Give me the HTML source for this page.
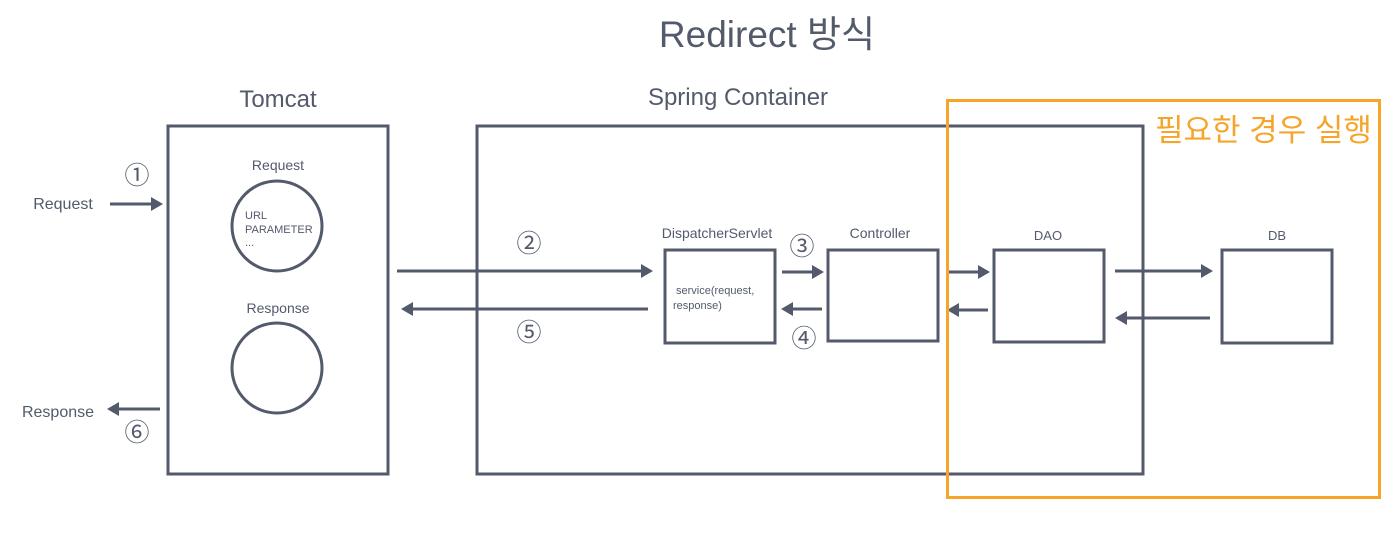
<!DOCTYPE html>
<html><head><meta charset="utf-8"><style>
html,body{margin:0;padding:0;background:#fff;width:1396px;height:537px;overflow:hidden}
text{font-family:"Liberation Sans","Noto Sans CJK KR",sans-serif;fill:#535a6b}
</style></head><body>
<svg width="1396" height="537" viewBox="0 0 1396 537" xmlns="http://www.w3.org/2000/svg">
<g stroke="#535a6b" stroke-width="3" fill="none">
<rect x="168" y="126" width="220" height="348"/>
<rect x="477" y="126" width="666" height="348"/>
<circle cx="277" cy="226" r="45"/>
<circle cx="277" cy="368" r="45"/>
<rect x="665" y="250" width="110" height="93"/>
<rect x="828" y="250" width="110" height="91"/>
<rect x="994" y="250" width="110" height="92"/>
<rect x="1222" y="250" width="110" height="93"/>
<line x1="110" y1="204" x2="152" y2="204"/>
<line x1="397" y1="271" x2="642" y2="271"/>
<line x1="648" y1="309" x2="412" y2="309"/>
<line x1="782" y1="272" x2="814" y2="272"/>
<line x1="822" y1="309" x2="792" y2="309"/>
<line x1="949" y1="272" x2="979" y2="272"/>
<line x1="988" y1="310" x2="958" y2="310"/>
<line x1="1115" y1="271" x2="1202" y2="271"/>
<line x1="1210" y1="318" x2="1126" y2="318"/>
<line x1="160" y1="409" x2="118" y2="409"/>
</g>
<g fill="#535a6b">
<polygon points="163,204 151,197 151,211"/>
<polygon points="653,271 641,264 641,278"/>
<polygon points="401,309 413,302 413,316"/>
<polygon points="824,272 812,265 812,279"/>
<polygon points="781,309 793,302 793,316"/>
<polygon points="990,272 978,265 978,279"/>
<polygon points="947,310 959,303 959,317"/>
<polygon points="1213,271 1201,264 1201,278"/>
<polygon points="1115,318 1127,311 1127,325"/>
<polygon points="107,409 119,402 119,416"/>
</g>
<rect x="947.5" y="100.5" width="432" height="397" stroke="#f7a42a" stroke-width="3" fill="none"/>
<text x="767" y="47" font-size="37" text-anchor="middle">Redirect 방식</text>
<text x="278" y="107" font-size="24" text-anchor="middle">Tomcat</text>
<text x="738" y="105" font-size="24" text-anchor="middle">Spring Container</text>
<text x="1155" y="141" font-size="31" style="fill:#f7a42a">필요한 경우 실행</text>
<text x="63" y="209" font-size="16" text-anchor="middle">Request</text>
<text x="58" y="417" font-size="16" text-anchor="middle">Response</text>
<text x="278" y="170" font-size="14" text-anchor="middle">Request</text>
<text x="278" y="313" font-size="14" text-anchor="middle">Response</text>
<text x="245" y="219" font-size="11">URL</text>
<text x="245" y="233" font-size="11">PARAMETER</text>
<text x="245" y="246" font-size="11">...</text>
<text x="717" y="238" font-size="14" text-anchor="middle">DispatcherServlet</text>
<text x="880" y="238" font-size="14" text-anchor="middle">Controller</text>
<text x="1048" y="240" font-size="13" text-anchor="middle">DAO</text>
<text x="1277" y="240" font-size="13" text-anchor="middle">DB</text>
<text x="676" y="294" font-size="11">service(request,</text>
<text x="673" y="309" font-size="11">response)</text>
<g font-size="25" text-anchor="middle">
<text x="137" y="184">①</text>
<text x="529" y="252">②</text>
<text x="802" y="255">③</text>
<text x="804" y="347">④</text>
<text x="529" y="341">⑤</text>
<text x="137" y="441">⑥</text>
</g>
</svg>
</body></html>
